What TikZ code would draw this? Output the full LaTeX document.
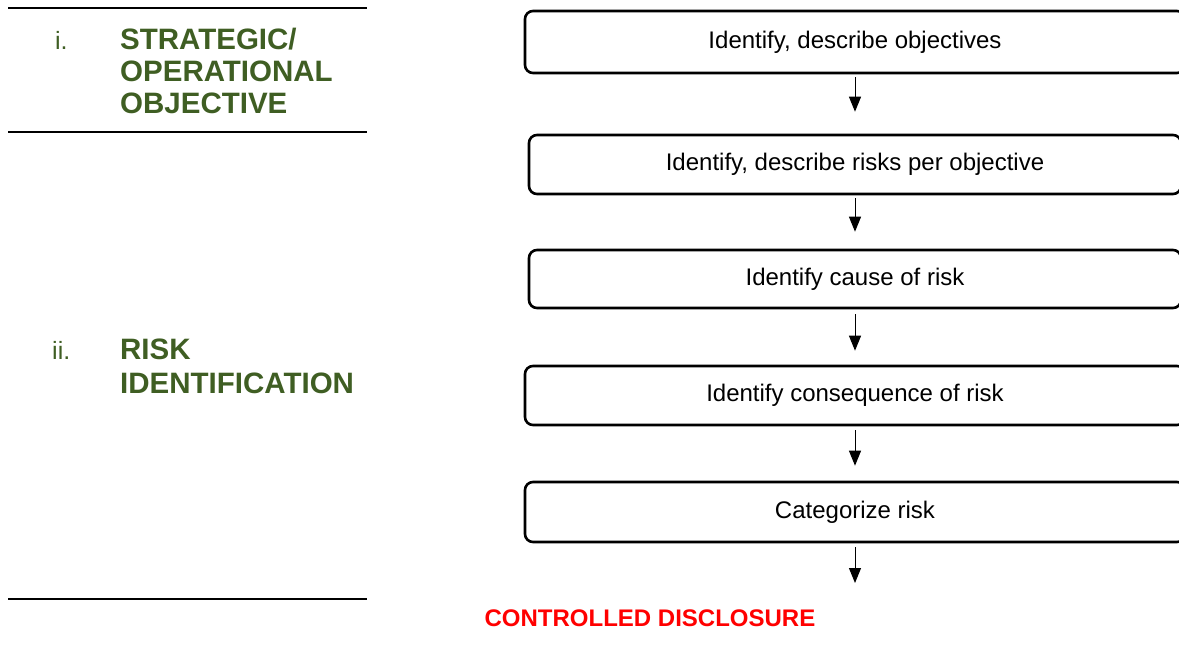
\documentclass[tikz,border=0pt]{standalone}
\usepackage{fontspec}
\setmainfont{Liberation Sans}
\usetikzlibrary{arrows.meta}
\definecolor{headgreen}{RGB}{63,94,35}
\definecolor{discred}{RGB}{255,0,0}
\tikzset{
  stepbox/.style={draw, line width=2.6pt, rounded corners=8pt, minimum height=60pt, inner sep=0pt, font=\fontsize{24}{28}\selectfont},
  arr/.style={line width=1pt, -{Triangle[length=15pt,width=12pt]}},
  rule/.style={line width=2pt},
  head/.style={text=headgreen, font=\fontsize{29.5}{32}\selectfont\bfseries, align=left, inner sep=0pt, anchor=base west},
  num/.style={text=headgreen, font=\fontsize{25}{30}\selectfont, inner sep=0pt, anchor=base west}
}
\begin{document}
\begin{tikzpicture}[x=1pt,y=-1pt]
\useasboundingbox (0,0) rectangle (1179,654);
\clip (0,0) rectangle (1179,654);
% left rules
\coordinate (r1a) at (8,8);   \coordinate (r1b) at (367,8);
\coordinate (r2a) at (8,132); \coordinate (r2b) at (367,132);
\coordinate (r3a) at (8,599); \coordinate (r3b) at (367,599);
\draw[rule] (r1a) -- (r1b);
\draw[rule] (r2a) -- (r2b);
\draw[rule] (r3a) -- (r3b);
% headings
\node[num] (n1) at (55,49) {i.};
\node[head] (h1) at (120,113) {STRATEGIC/\\OPERATIONAL\\OBJECTIVE};
\node[num] (n2) at (52,359) {ii.};
\node[head, font=\fontsize{29.5}{34}\selectfont\bfseries] (h2) at (120,393) {RISK\\IDENTIFICATION};
% boxes
\node[stepbox, minimum width=660pt, minimum height=62pt] (b1) at (855,42) {Identify, describe objectives};
\node[stepbox, minimum width=652pt, minimum height=59pt] (b2) at (855,164.5) {Identify, describe risks per objective};
\node[stepbox, minimum width=652pt, minimum height=58pt] (b3) at (855,279) {Identify cause of risk};
\node[stepbox, minimum width=660pt, minimum height=59pt] (b4) at (855,395.5) {Identify consequence of risk};
\node[stepbox, minimum width=660pt, minimum height=60pt] (b5) at (855,512) {Categorize risk};
% arrows
\coordinate (end) at (855,583);
\draw[arr] ([yshift=-3pt]b1.south) -- ([yshift=22pt]b2.north);
\draw[arr] ([yshift=-3pt]b2.south) -- ([yshift=17pt]b3.north);
\draw[arr] ([yshift=-5pt]b3.south) -- ([yshift=14pt]b4.north);
\draw[arr] ([yshift=-4pt]b4.south) -- ([yshift=15pt]b5.north);
\draw[arr] ([yshift=-4pt]b5.south) -- (end);
% footer
\node[text=discred, font=\fontsize{24}{28}\selectfont\bfseries, inner sep=0pt] (foot) at (650,618) {CONTROLLED DISCLOSURE};
\end{tikzpicture}
\end{document}
